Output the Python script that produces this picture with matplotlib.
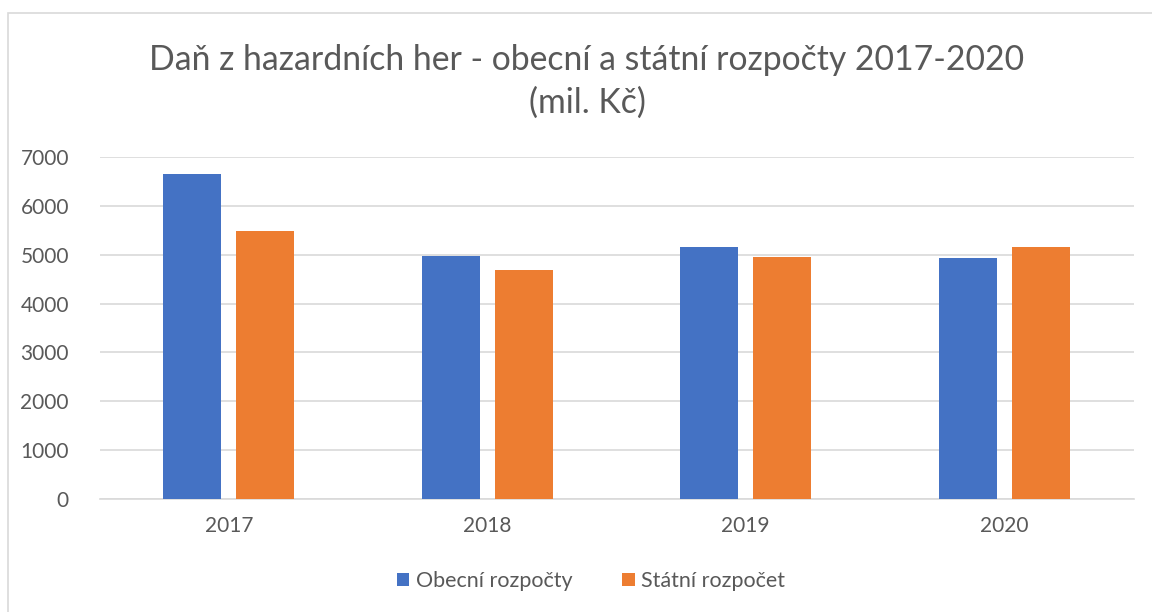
import matplotlib.pyplot as plt
import numpy as np
from matplotlib.patches import Rectangle

# data (mil. Kč)
years = ['2017', '2018', '2019', '2020']
obecni = [6653, 4980, 5150, 4925]
statni = [5476, 4694, 4945, 5150]
series_names = ['Obecní rozpočty', 'Státní rozpočet']

plt.rcParams['font.family'] = ['Lato', 'DejaVu Sans']

fig = plt.figure(figsize=(11.52, 6.12), dpi=100)
ax = fig.add_axes([99.5 / 1152, 1 - 499 / 612, (1133.5 - 99.5) / 1152, (499 - 157) / 612])

# outer chart border like the spreadsheet frame
fig.patches.append(Rectangle((8 / 1152, -0.01), 1.2, 1 - 13 / 612 + 0.01,
                             transform=fig.transFigure, fill=False,
                             edgecolor='#d9d9d9', linewidth=1.2))

x = np.arange(len(years))
w = 0.224
off = 0.141
ax.bar(x - off, obecni, w, color='#4472c4', label=series_names[0], zorder=3)
ax.bar(x + off, statni, w, color='#ed7d31', label=series_names[1], zorder=3)

ax.set_xlim(-0.5, len(years) - 0.5)
ax.set_ylim(0, 7000)
ax.set_yticks(range(0, 7001, 1000))
ax.set_xticks(x)
ax.set_xticklabels(years)
ax.grid(axis='y', color='#d9d9d9', linewidth=1.2, zorder=0)
for s in ['top', 'right', 'left']:
    ax.spines[s].set_visible(False)
ax.spines['bottom'].set_color('#d9d9d9')
ax.spines['bottom'].set_linewidth(1.2)
ax.tick_params(axis='both', length=0, labelsize=15, colors='#595959')
ax.tick_params(axis='y', pad=22)
ax.tick_params(axis='x', pad=12)

tx = 587 / 1152
fig.text(tx, 1 - 60 / 612, 'Daň z hazardních her - obecní a státní rozpočty 2017-2020',
         ha='center', va='center', fontsize=24.3, color='#595959')
fig.text(tx, 1 - 103 / 612, '(mil. Kč)', ha='center', va='center',
         fontsize=24.3, color='#595959')

fig.legend(loc='center', bbox_to_anchor=(591 / 1152, 1 - 581 / 612), ncol=2,
           frameon=False, fontsize=15.5, handlelength=0.6, handleheight=0.6,
           handletextpad=0.3, columnspacing=2.3, labelcolor='#595959')

fig.savefig('out.png', dpi=100)
